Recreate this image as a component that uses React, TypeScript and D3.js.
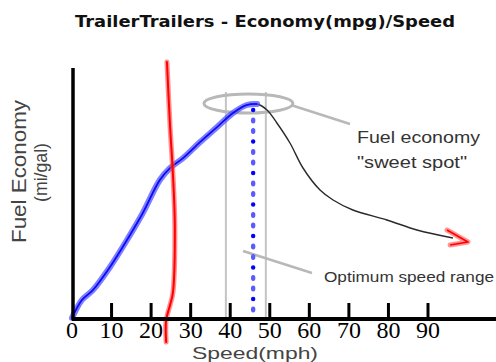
import React from "react";
import * as d3 from "d3";

// ---- data ----
const speedTicks = [0, 10, 20, 30, 40, 50, 60, 70, 80, 90];
const curveSpeed = [0, 2.5, 5.3, 9.6, 13.9, 17.9, 22.2, 24.8, 28.1, 32.4, 36.7, 40.7, 44.2, 46.8, 49.3, 51.8, 55.1, 58.4, 62.7, 66.0, 71.0, 79.6, 87.2, 96.3];
const curveMpg = [0, 1.8, 2.8, 5.1, 7.8, 10.5, 13.8, 15.0, 16.0, 17.6, 19.1, 20.5, 21.3, 21.4, 20.8, 19.5, 17.5, 15.0, 12.8, 11.8, 10.8, 9.8, 8.8, 8.0];
const peakIndex = 13;
const arrowSpeed = [94.8, 100.1, 95.6];
const arrowMpg = [8.8, 7.6, 7.3];
const redSpeed = [24.0, 24.8, 25.5, 26.0, 25.5, 24.8, 23.8, 23.8];
const redMpg = [25.6, 19.1, 14.5, 9.1, 2.5, 1.3, -0.2, -2.4];
const optimumRange = [38.9, 49.0];
const optimumTop = 22.6;
const sweetSpotSpeed = 44.6;
const sweetSpotMpg = 21.45;
const optimumSpeed = 45.8;
const optimumSpeedTopMpg = 20.8;

const W = 496;
const H = 362;

export default function App() {
  const x = d3.scaleLinear().domain([0, 90]).range([72, 428]);
  const y = d3.scaleLinear().domain([0, 25]).range([318, 68]);

  const pts: [number, number][] = curveSpeed.map((s, i) => [s, curveMpg[i]]);
  const line = d3
    .line<[number, number]>()
    .x((d) => x(d[0]))
    .y((d) => y(d[1]))
    .curve(d3.curveCatmullRom.alpha(0.5));
  const straight = d3
    .line<[number, number]>()
    .x((d) => x(d[0]))
    .y((d) => y(d[1]));

  const fullPath = line(pts) || "";
  const bluePath = line(pts.slice(0, peakIndex + 1)) || "";
  const redPath = line(redSpeed.map((s, i) => [s, redMpg[i]] as [number, number])) || "";
  const arrowPath = straight(arrowSpeed.map((s, i) => [s, arrowMpg[i]] as [number, number])) || "";

  const dots = d3.range(y(optimumSpeedTopMpg), y(0), 10.5);

  const sans = "'Liberation Sans', Arial, sans-serif";

  return (
    <svg width={W} height={H} style={{ position: "absolute", left: 0, top: 0, background: "#fff" }}>
      {/* title */}
      <text x={75} y={27} fontFamily="'DejaVu Sans', Verdana, sans-serif" fontWeight="bold" fontSize={16}
        textLength={380} lengthAdjust="spacingAndGlyphs" fill="#111">
        TrailerTrailers - Economy(mpg)/Speed
      </text>

      {/* optimum range lines */}
      {optimumRange.map((s, i) => (
        <line key={i} x1={x(s)} x2={x(s)} y1={y(optimumTop)} y2={y(0)} stroke="#c4c4c4" strokeWidth={2} />
      ))}

      {/* sweet-spot ellipse & callout */}
      <ellipse cx={x(sweetSpotSpeed)} cy={y(sweetSpotMpg)} rx={44.5} ry={9.5} fill="none" stroke="#b8b8b8" strokeWidth={3} />
      <line x1={x(sweetSpotSpeed) + 44} y1={y(sweetSpotMpg) + 2} x2={350} y2={124} stroke="#b8b8b8" strokeWidth={2.5} />
      <line x1={243} y1={251} x2={312} y2={273} stroke="#b8b8b8" strokeWidth={2.5} />

      {/* curve */}
      <path d={fullPath} fill="none" stroke="#2a2a2a" strokeWidth={1.4} />
      <path d={bluePath} fill="none" stroke="rgba(70,70,255,0.7)" strokeWidth={6} strokeLinecap="round" />
      <path d={bluePath} fill="none" stroke="#0a0aff" strokeWidth={1.6} />

      {/* arrow */}
      <path d={arrowPath} fill="none" stroke="rgba(255,60,60,0.55)" strokeWidth={5} strokeLinecap="round" strokeLinejoin="round" />
      <path d={arrowPath} fill="none" stroke="#ff0000" strokeWidth={1.6} strokeLinejoin="round" />

      {/* optimum speed dotted line */}
      {dots.map((d, i) => (
        <ellipse key={i} cx={x(optimumSpeed)} cy={d} rx={2.2} ry={i % 3 === 0 ? 2.2 : 3} fill={i % 3 === 0 ? "#0000ff" : "#5a5aff"} />
      ))}

      {/* red line */}
      <path d={redPath} fill="none" stroke="rgba(255,70,70,0.6)" strokeWidth={5} strokeLinecap="round" />
      <path d={redPath} fill="none" stroke="#ff0000" strokeWidth={2} strokeLinecap="round" />

      {/* axes */}
      <line x1={x(0) + 1} x2={x(0) + 1} y1={68} y2={320} stroke="#000" strokeWidth={3.5} />
      <line x1={x(0)} x2={W} y1={319} y2={319} stroke="#000" strokeWidth={4} />
      {speedTicks.slice(1).map((t) => (
        <line key={t} x1={x(t)} x2={x(t)} y1={303} y2={319} stroke="#000" strokeWidth={3} />
      ))}
      {speedTicks.map((t) => (
        <text key={t} x={x(t)} y={338} textAnchor="middle" fontFamily="'Liberation Serif', 'Times New Roman', serif" fontSize={24} fill="#000">
          {t}
        </text>
      ))}

      {/* annotation texts */}
      <text x={357} y={143} fontFamily={sans} fontSize={16} textLength={123} lengthAdjust="spacingAndGlyphs" fill="#333">Fuel economy</text>
      <text x={357} y={168} fontFamily={sans} fontSize={16} textLength={110} lengthAdjust="spacingAndGlyphs" fill="#333">"sweet spot"</text>
      <text x={324} y={282} fontFamily={sans} fontSize={15} textLength={170} lengthAdjust="spacingAndGlyphs" fill="#333">Optimum speed range</text>

      {/* axis titles */}
      <text x={192} y={359} fontFamily={sans} fontSize={17} textLength={126} lengthAdjust="spacingAndGlyphs" fill="#444">Speed(mph)</text>
      <g transform="translate(26,243) rotate(-90)">
        <text x={0} y={0} fontFamily={sans} fontSize={20} textLength={143} lengthAdjust="spacingAndGlyphs" fill="#444">Fuel Economy</text>
      </g>
      <g transform="translate(47,202) rotate(-90)">
        <text x={0} y={0} fontFamily={sans} fontSize={19} textLength={59} lengthAdjust="spacingAndGlyphs" fill="#444">(mi/gal)</text>
      </g>
    </svg>
  );
}
